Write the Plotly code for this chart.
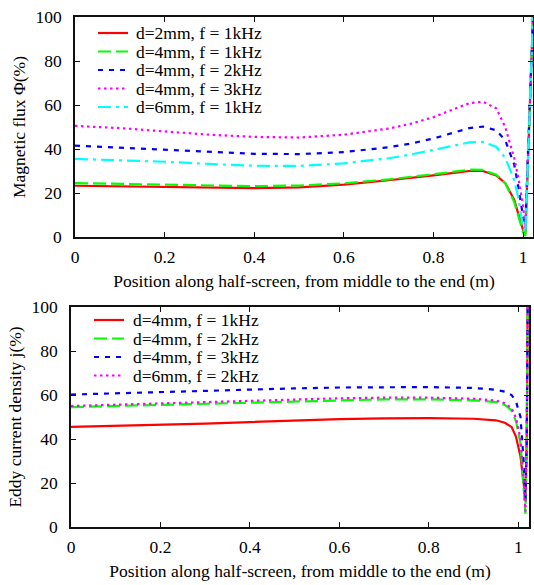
import plotly.graph_objects as go

# ---------------- data: top panel (magnetic flux) ----------------
x_top = [0, 0.1, 0.2, 0.3, 0.4, 0.5, 0.6, 0.7, 0.75, 0.8, 0.85, 0.88, 0.91,
         0.94, 0.96, 0.98, 0.99, 1.0, 1.005, 1.01, 1.015, 1.022]
flux_d2_f1 = [23.3, 23.0, 22.6, 22.3, 22.2, 22.6, 23.8, 25.8, 26.8, 28.0, 29.3,
              30.0, 30.0, 28.0, 24.5, 17.0, 10.0, 3.0, 1.5, 30.0, 60.0, 100.0]
flux_d4_f1 = [24.5, 24.2, 23.8, 23.3, 23.1, 23.4, 24.4, 26.2, 27.2, 28.5, 29.8,
              30.6, 30.5, 28.3, 24.5, 16.0, 9.0, 2.0, 0.5, 30.0, 62.0, 100.0]
flux_d4_f2 = [41.5, 40.6, 39.6, 38.6, 37.8, 37.7, 38.6, 40.8, 42.5, 44.8, 47.8,
              49.5, 50.2, 48.5, 44.0, 33.0, 22.0, 9.0, 6.0, 35.0, 60.0, 100.0]
flux_d4_f3 = [50.5, 49.5, 48.0, 46.5, 45.5, 45.2, 46.5, 49.3, 51.5, 54.5, 58.5,
              60.8, 61.5, 58.5, 50.0, 36.0, 26.0, 14.0, 4.0, 30.0, 58.0, 100.0]
flux_d6_f1 = [35.5, 35.0, 34.2, 33.2, 32.4, 32.3, 33.5, 35.8, 37.5, 39.6, 41.8,
              43.0, 43.2, 41.0, 36.0, 26.0, 17.0, 4.0, 2.0, 32.0, 60.0, 100.0]
top_names = ["d=2mm, f = 1kHz", "d=4mm, f = 1kHz", "d=4mm, f = 2kHz",
             "d=4mm, f = 3kHz", "d=6mm, f = 1kHz"]

# ---------------- data: bottom panel (eddy current density) ----------------
x_bot = [0, 0.1, 0.2, 0.3, 0.4, 0.5, 0.6, 0.7, 0.8, 0.9, 0.95, 0.97, 0.985,
         0.995, 1.005, 1.012, 1.016, 1.019, 1.021]
eddy_d4_f1 = [45.5, 45.9, 46.4, 47.0, 47.7, 48.4, 49.0, 49.4, 49.5, 49.2, 48.5,
              47.4, 45.5, 41.0, 32.0, 20.0, 13.0, 40.0, 100.0]
eddy_d4_f2 = [54.5, 55.0, 55.6, 56.2, 56.8, 57.3, 57.7, 58.0, 58.0, 57.6, 56.8,
              55.5, 53.0, 48.0, 38.0, 20.0, 6.0, 40.0, 100.0]
eddy_d4_f3 = [60.2, 60.8, 61.4, 62.0, 62.5, 63.0, 63.4, 63.6, 63.6, 63.2, 62.4,
              61.5, 60.0, 57.0, 50.0, 30.0, 12.0, 40.0, 100.0]
eddy_d6_f2 = [55.0, 55.6, 56.3, 56.9, 57.5, 58.0, 58.5, 58.8, 58.8, 58.3, 57.5,
              56.3, 54.0, 49.5, 40.0, 22.0, 7.0, 40.0, 100.0]
bot_names = ["d=4mm, f = 1kHz", "d=4mm, f = 2kHz", "d=4mm, f = 3kHz",
             "d=6mm, f = 2kHz"]

x_ticks = [0, 0.2, 0.4, 0.6, 0.8, 1]
x_tick_labels = ["0", "0.2", "0.4", "0.6", "0.8", "1"]
y_ticks = [0, 20, 40, 60, 80, 100]

# ---------------- styles ----------------
FONT = "Liberation Serif"
FS = 17.5
styles_top = [
    dict(color="#ff0000", dash="solid"),
    dict(color="#00ff00", dash="13px,5px"),
    dict(color="#0000ff", dash="5px,6px"),
    dict(color="#ff00ff", dash="2.5px,3.5px"),
    dict(color="#00ffff", dash="13px,5px,3px,5px"),
]
styles_bot = [
    dict(color="#ff0000", dash="solid"),
    dict(color="#00ff00", dash="13px,5px"),
    dict(color="#0000ff", dash="5px,6px"),
    dict(color="#ff00ff", dash="2.5px,3.5px"),
]

W, H = 534, 585

def pxx(p):  # page x pixel -> paper x
    return p / W

def pxy(p):  # page y pixel (from top) -> paper y
    return 1 - p / H

fig = go.Figure()

for ys, name, st in zip([flux_d2_f1, flux_d4_f1, flux_d4_f2, flux_d4_f3, flux_d6_f1],
                        top_names, styles_top):
    fig.add_trace(go.Scatter(x=x_top, y=ys, name=name, mode="lines",
                             line=dict(color=st["color"], dash=st["dash"], width=2.2),
                             xaxis="x", yaxis="y", showlegend=False))

for ys, name, st in zip([eddy_d4_f1, eddy_d4_f2, eddy_d4_f3, eddy_d6_f2],
                        bot_names, styles_bot):
    fig.add_trace(go.Scatter(x=x_bot, y=ys, name=name, mode="lines",
                             line=dict(color=st["color"], dash=st["dash"], width=2.2),
                             xaxis="x2", yaxis="y2", showlegend=False))

# ---------------- manual legends (key samples + text) ----------------
shapes, annots = [], []

def add_key(names, styles, x0, x1, xt, y_rows):
    for name, st, yp in zip(names, styles, y_rows):
        yy = pxy(yp)
        shapes.append(dict(type="line", xref="paper", yref="paper",
                           x0=pxx(x0), x1=pxx(x1), y0=yy, y1=yy,
                           line=dict(color=st["color"], dash=st["dash"], width=2.2)))
        annots.append(dict(text=name, xref="paper", yref="paper", x=pxx(xt), y=yy,
                           xanchor="left", yanchor="middle", showarrow=False,
                           font=dict(family=FONT, size=FS, color="black")))

add_key(top_names, styles_top, 98, 128, 134, [33, 51.5, 70, 88.5, 107])
add_key(bot_names, styles_bot, 94, 124, 131, [320, 338.5, 357, 375.5])

axis_common = dict(showgrid=False, zeroline=False, showline=True, linecolor="#111",
                   linewidth=1.6, mirror="allticks", ticks="inside", ticklen=5,
                   tickcolor="#111", tickwidth=1, automargin=False,
                   tickfont=dict(family=FONT, size=FS, color="black"))

XT = "Position along half-screen, from middle to the end (m)"

fig.update_layout(
    width=W, height=H,
    margin=dict(l=0, r=0, t=0, b=0),
    paper_bgcolor="white", plot_bgcolor="white",
    font=dict(family=FONT, size=FS, color="black"),
    xaxis=dict(domain=[pxx(75), pxx(533)], range=[0, 1.022], anchor="y",
               tickvals=x_ticks, ticktext=x_tick_labels, ticklabelstandoff=3,
               title=dict(text=XT, font=dict(family=FONT, size=FS), standoff=9),
               **axis_common),
    yaxis=dict(domain=[pxy(237), pxy(17)], range=[0, 100], anchor="x",
               tickvals=y_ticks, ticklabelstandoff=8,
               title=dict(text="Magnetic flux \u03a6(%)", font=dict(family=FONT, size=FS),
                          standoff=5),
               **axis_common),
    xaxis2=dict(domain=[pxx(71), pxx(529)], range=[0, 1.024], anchor="y2",
                tickvals=x_ticks, ticktext=x_tick_labels, ticklabelstandoff=3,
                title=dict(text=XT, font=dict(family=FONT, size=FS), standoff=9),
                **axis_common),
    yaxis2=dict(domain=[pxy(527), pxy(307)], range=[0, 100], anchor="x2",
                tickvals=y_ticks, ticklabelstandoff=8,
                title=dict(text="Eddy current density j(%)", font=dict(family=FONT, size=FS),
                           standoff=5),
                **axis_common),
    shapes=shapes,
    annotations=annots,
    showlegend=False,
)

# remove the default 8px page margin so the 534x585 figure fills the window exactly
fig.write_html("out.html",
               config={"displayModeBar": False},
               post_script="document.body.style.margin='0';"
                           "document.body.style.overflow='hidden';")
